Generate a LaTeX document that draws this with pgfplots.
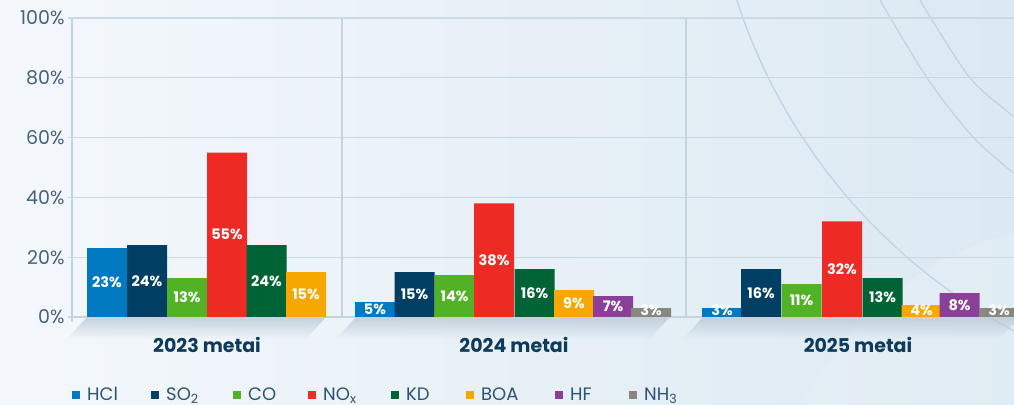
\documentclass[border=0pt]{standalone}
\usepackage{pgfplots}
\pgfplotsset{compat=1.18}
\usetikzlibrary{fadings}
\usepackage{fontspec}
\setmainfont{Poppins}
\definecolor{cHCl}{HTML}{0079C1}
\definecolor{cSO}{HTML}{003F63}
\definecolor{cCO}{HTML}{52B226}
\definecolor{cNO}{HTML}{EE2A24}
\definecolor{cKD}{HTML}{006335}
\definecolor{cBOA}{HTML}{F7A800}
\definecolor{cHF}{HTML}{8A3F98}
\definecolor{cNH}{HTML}{8A8680}
\definecolor{bgL}{HTML}{F4F8FC}
\definecolor{bgR}{HTML}{DCE9F2}
\definecolor{gridc}{HTML}{CBD9E3}
\definecolor{vgridc}{HTML}{C5D3DE}
\definecolor{arcc}{HTML}{C2D4DF}
\definecolor{tickc}{HTML}{45627C}
\definecolor{grpc}{HTML}{0E3A5C}
\definecolor{legc}{HTML}{2D5274}
\definecolor{shadc}{HTML}{B9C9D6}
\pgfplotsset{
  mybar/.style={ybar, bar width=40, bar shift=0pt, draw=none, fill=#1,
    visualization depends on={rawy \as \myy},
    nodes near coords={\pgfmathprintnumber[assume math mode=true]{\pgfplotspointmeta}\%},
    every node near coord/.append style={font=\bfseries\fontsize{14.5}{17}\selectfont, text=white, anchor=center,
      yshift={max(\myy*1.495pt,6.5pt)-\myy*2.99pt}},
    legend image code/.code={\fill[#1] (0pt,-3.75pt) rectangle (7.5pt,3.75pt);}},
}
\begin{document}
\begin{tikzpicture}
\useasboundingbox (0pt,0pt) rectangle (1014pt,404pt);
\clip (0pt,0pt) rectangle (1014pt,404pt);
\shade[left color=bgL, right color=bgR] (0pt,0pt) rectangle (1014pt,404pt);
\fill[white, opacity=0.14] (1100pt,-150pt) circle (333pt);
\draw[arcc, line width=1.3pt] (1284pt,581pt) circle (575pt);
\draw[arcc, line width=1.3pt] plot[smooth] coordinates {(880pt,404pt) (927pt,326pt) (973pt,267pt) (1016pt,229pt)};
\draw[arcc, line width=1.3pt] plot[smooth] coordinates {(920pt,404pt) (970pt,326pt) (1016pt,286pt)};
% floor shadows under the bar groups
\fill[shadc, path fading=south, opacity=0.8] (87pt,87pt) -- (326pt,87pt) -- (306pt,65pt) -- (67pt,65pt) -- cycle;
\fill[shadc, path fading=south, opacity=0.8] (356pt,87pt) -- (670pt,87pt) -- (650pt,65pt) -- (336pt,65pt) -- cycle;
\fill[shadc, path fading=south, opacity=0.8] (703pt,87pt) -- (1020pt,87pt) -- (1000pt,65pt) -- (683pt,65pt) -- cycle;
\begin{axis}[
  at={(72pt,87pt)}, anchor=south west, scale only axis,
  width=942pt, height=299pt,
  xmin=72, xmax=1014, ymin=0, ymax=100,
  axis x line*=bottom, axis y line*=left,
  axis line style={draw=vgridc, line width=1.3pt},
  y axis line style={shorten <=-5pt},
  ytick={0,20,40,60,80,100},
  yticklabels={0\%,20\%,40\%,60\%,80\%,100\%},
  yticklabel style={font=\fontsize{19}{22}\selectfont, text=tickc},
  ymajorgrids, grid style={gridc, line width=1.3pt},
  ytick style={draw=gridc, line width=1.3pt},
  ytick align=outside, major tick length=4pt,
  xtick={207,514,858},
  xticklabels={2023 metai,2024 metai,2025 metai},
  xtick style={draw=none},
  xticklabel style={font=\bfseries\fontsize{19}{22}\selectfont, text=grpc, anchor=center, yshift=-28pt},
  extra x ticks={342,686}, extra x tick labels={},
  extra x tick style={grid=major, major grid style={vgridc, line width=1.3pt}, tick style={draw=none}},
  legend columns=8,
  legend cell align=left,
  legend style={at={(0,-0.261)}, anchor=west, draw=none, fill=none, inner sep=0pt,
    font=\fontsize{18}{21}\selectfont, text=legc, nodes={inner sep=0pt},
    /tikz/column sep=0pt, /tikz/every odd column/.append style={column sep=7.5pt}},
]
\addplot[mybar=cHCl] coordinates {(107,23) (375,5) (722,3)};
\addlegendentry{\makebox[64pt][l]{HCl}}
\addplot[mybar=cSO] coordinates {(147,24) (414.5,15) (761,16)};
\addlegendentry{\makebox[67pt][l]{SO\textsubscript{2}}}
\addplot[mybar=cCO] coordinates {(187,13) (454.5,14) (801.5,11)};
\addlegendentry{\makebox[60pt][l]{CO}}
\addplot[mybar=cNO] coordinates {(227,55) (494,38) (842,32)};
\addlegendentry{\makebox[68pt][l]{NO\textsubscript{x}}}
\addplot[mybar=cKD] coordinates {(266.5,24) (534.5,16) (882.5,13)};
\addlegendentry{\makebox[60pt][l]{KD}}
\addplot[mybar=cBOA] coordinates {(306,15) (574,9) (921.5,4)};
\addlegendentry{\makebox[74pt][l]{BOA}}
\addplot[mybar=cHF] coordinates {(613,7) (959.5,8)};
\addlegendentry{\makebox[59pt][l]{HF}}
\addplot[mybar=cNH] coordinates {(651,3) (999,3)};
\addlegendentry{\makebox[40pt][l]{NH\textsubscript{3}}}
\end{axis}
\end{tikzpicture}
\end{document}
